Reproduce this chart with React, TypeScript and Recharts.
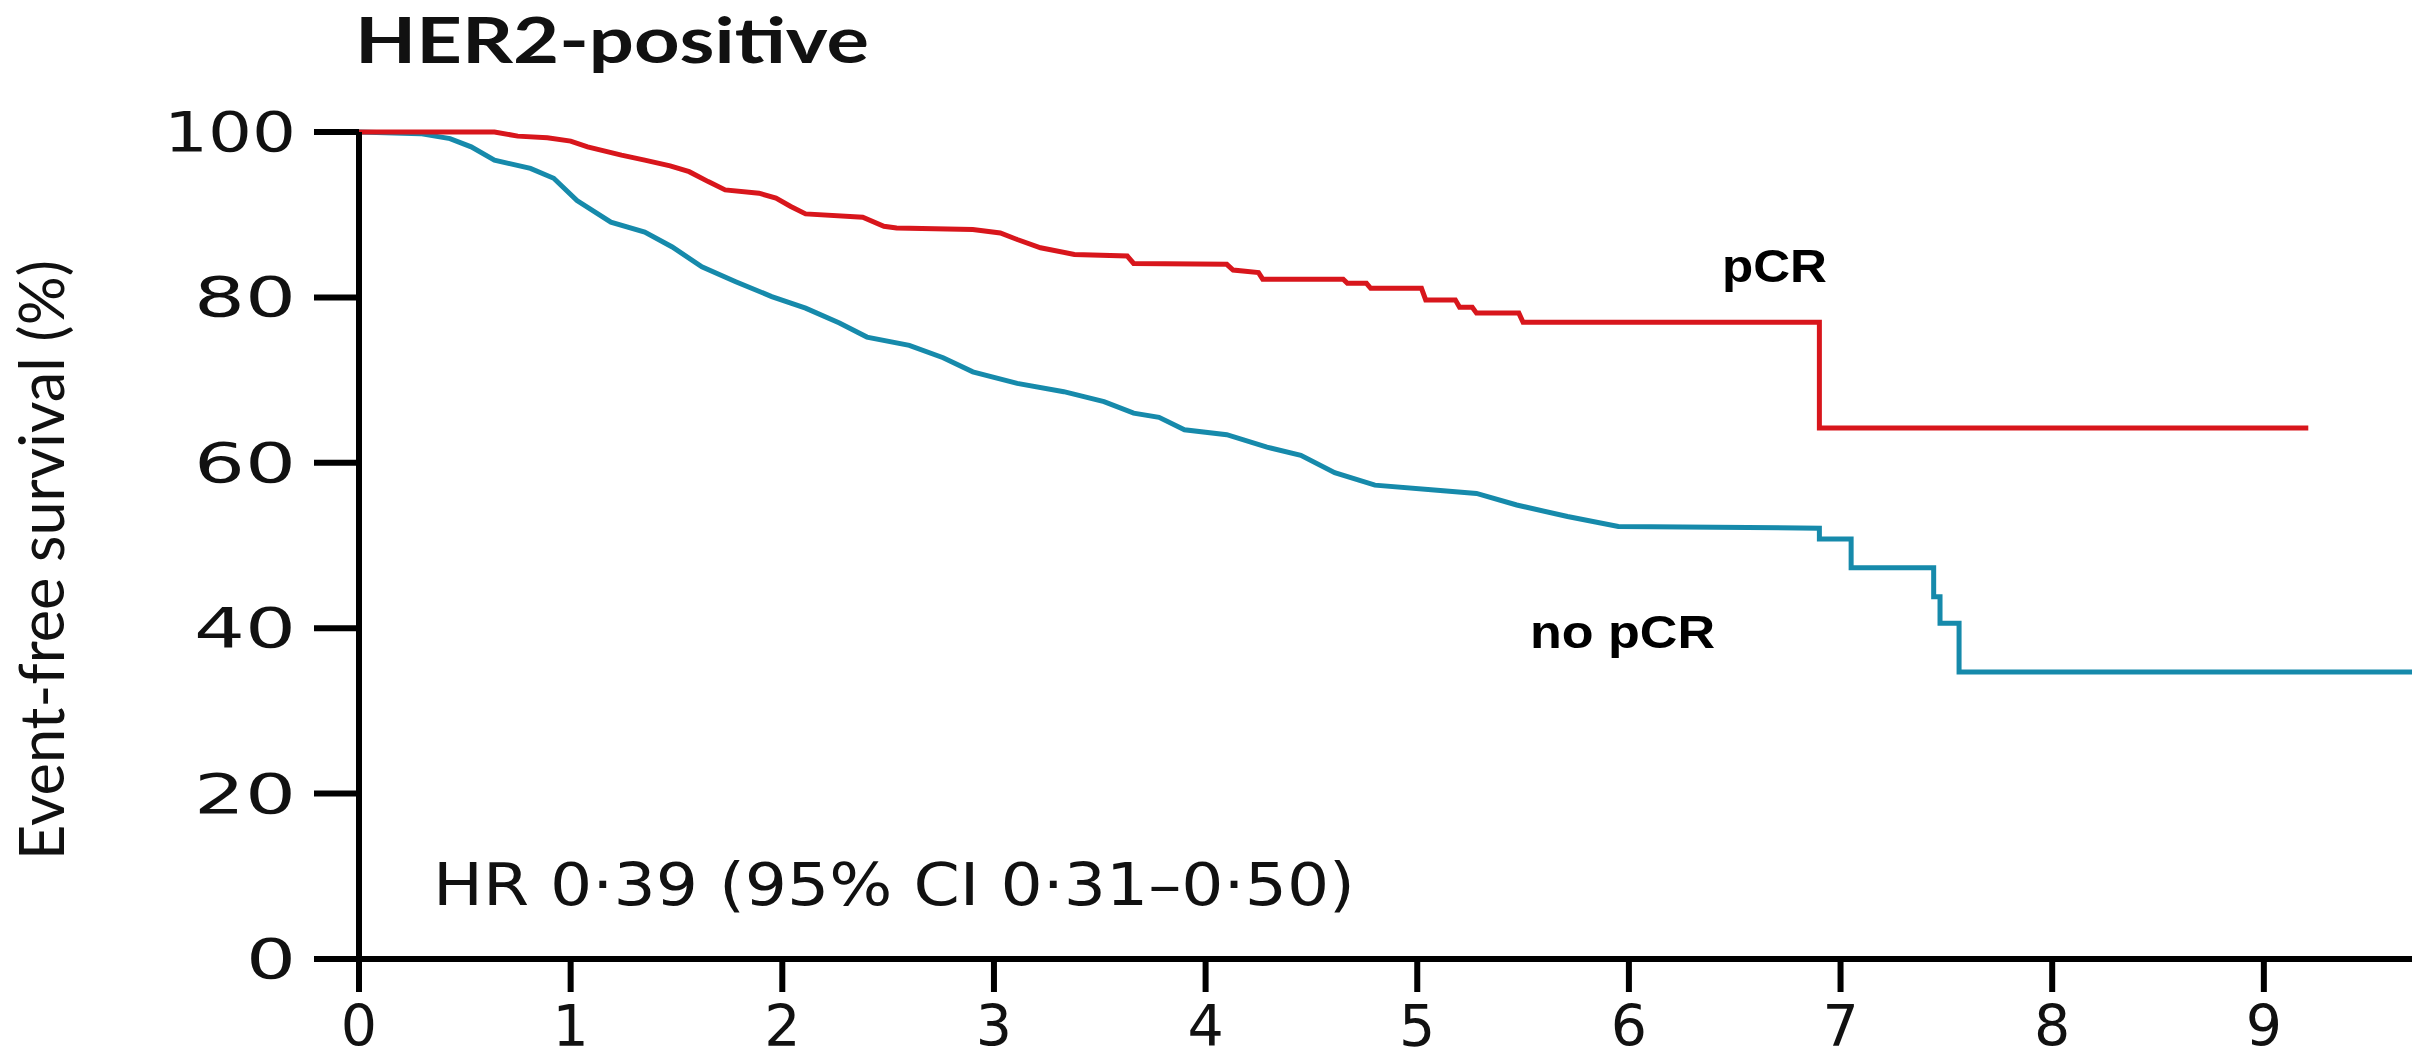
import { LineChart, Line, XAxis, YAxis } from 'recharts'

// event-free survival, years vs %
const PCR_TIME = [0, 0.64, 0.75, 0.89, 1.0, 1.08, 1.24, 1.35, 1.47, 1.56, 1.65, 1.73, 1.89, 1.97, 2.04, 2.11, 2.38, 2.48, 2.54, 2.9, 3.03, 3.11, 3.22, 3.38, 3.63, 3.66, 4.1, 4.13, 4.25, 4.27, 4.65, 4.67, 4.76, 4.78, 5.02, 5.04, 5.18, 5.2, 5.26, 5.28, 5.48, 5.5, 6.9, 6.9, 9.21]
const PCR_EFS = [100, 100, 99.5, 99.3, 98.9, 98.2, 97.2, 96.6, 95.9, 95.2, 94.0, 93.0, 92.6, 92.0, 91.0, 90.1, 89.7, 88.6, 88.4, 88.2, 87.8, 87.0, 86.0, 85.2, 85.0, 84.1, 84.0, 83.3, 83.0, 82.2, 82.2, 81.7, 81.7, 81.1, 81.1, 79.7, 79.7, 78.8, 78.8, 78.1, 78.1, 77.0, 77.0, 64.2, 64.2]

const NO_PCR_TIME = [0, 0.29, 0.43, 0.53, 0.64, 0.81, 0.92, 1.03, 1.19, 1.35, 1.48, 1.62, 1.78, 1.95, 2.11, 2.27, 2.4, 2.6, 2.76, 2.9, 3.11, 3.33, 3.52, 3.66, 3.78, 3.9, 4.1, 4.29, 4.45, 4.61, 4.8, 5.08, 5.28, 5.47, 5.71, 5.95, 6.9, 6.9, 7.05, 7.05, 7.44, 7.44, 7.47, 7.47, 7.56, 7.56, 9.7]
const NO_PCR_EFS = [100, 99.8, 99.2, 98.2, 96.6, 95.6, 94.4, 91.7, 89.1, 87.9, 86.1, 83.7, 81.9, 80.1, 78.7, 76.9, 75.2, 74.2, 72.7, 71.0, 69.6, 68.6, 67.4, 66.0, 65.5, 64.0, 63.4, 61.9, 60.9, 58.8, 57.3, 56.7, 56.3, 54.9, 53.5, 52.3, 52.1, 50.8, 50.8, 47.3, 47.3, 43.8, 43.8, 40.6, 40.6, 34.7, 34.7]

const X_TICKS = [0, 1, 2, 3, 4, 5, 6, 7, 8, 9]
const Y_TICKS = [0, 20, 40, 60, 80, 100]

const pcrData = PCR_TIME.map((t, i) => ({ t, efs: PCR_EFS[i] }))
const noPcrData = NO_PCR_TIME.map((t, i) => ({ t, efs: NO_PCR_EFS[i] }))

const RED = '#d8161c'
const BLUE = '#168aab'
const W = 2412
const H = 1061

function YTick({ x, y, payload }: any) {
  const label = String(payload.value)
  const w = label.length === 3 ? 132 : label.length === 2 ? 102 : 50
  return (
    <text x={x} y={y} dy={19} textAnchor="end" fontFamily="DejaVu Sans" fontSize={55} fill="#111"
      textLength={w} lengthAdjust="spacingAndGlyphs">
      {label}
    </text>
  )
}

function XTick({ x, y, payload }: any) {
  return (
    <text x={x} y={y} dy={54} textAnchor="middle" fontFamily="DejaVu Sans" fontSize={57} fill="#111">
      {payload.value}
    </text>
  )
}

export default function App() {
  return (
    <div style={{ position: 'absolute', left: 0, top: 0, width: W, height: H, background: '#fff' }}>
      <LineChart width={W} height={H} margin={{ top: 132, right: 0, bottom: 0, left: 0 }}>
        <XAxis
          type="number"
          dataKey="t"
          domain={[0, 9.7]}
          ticks={X_TICKS}
          allowDataOverflow
          height={102}
          tickSize={33}
          tickMargin={0}
          axisLine={{ stroke: '#000', strokeWidth: 6 }}
          tickLine={{ stroke: '#000', strokeWidth: 6 }}
          tick={<XTick />}
        />
        <YAxis
          type="number"
          domain={[0, 100]}
          ticks={Y_TICKS}
          width={359}
          tickSize={45}
          tickMargin={18}
          axisLine={{ stroke: '#000', strokeWidth: 6 }}
          tickLine={{ stroke: '#000', strokeWidth: 6 }}
          tick={<YTick />}
        />
        <Line data={noPcrData} dataKey="efs" type="linear" stroke={BLUE} strokeWidth={5}
          dot={false} activeDot={false} isAnimationActive={false} />
        <Line data={pcrData} dataKey="efs" type="linear" stroke={RED} strokeWidth={5}
          dot={false} activeDot={false} isAnimationActive={false} />
      </LineChart>
      <svg width={W} height={H} style={{ position: 'absolute', left: 0, top: 0, pointerEvents: 'none' }}>
        <text x={355} y={63} fontFamily="Lato" fontWeight={700} fontSize={64} fill="#111"
          textLength={514} lengthAdjust="spacingAndGlyphs">HER2-positive</text>
        <text transform="translate(64 560) rotate(-90)" textAnchor="middle" fontFamily="Lato" fontSize={61} fill="#111"
          textLength={600} lengthAdjust="spacingAndGlyphs">Event-free survival (%)</text>
        <text x={433} y={905} fontFamily="DejaVu Sans" fontSize={59} fill="#111"
          textLength={922} lengthAdjust="spacingAndGlyphs">HR 0·39 (95% CI 0·31–0·50)</text>
        <text x={1722} y={282} fontFamily="Liberation Sans" fontWeight={700} fontSize={47} fill="#000"
          textLength={105} lengthAdjust="spacingAndGlyphs">pCR</text>
        <text x={1530} y={648} fontFamily="Liberation Sans" fontWeight={700} fontSize={46} fill="#000"
          textLength={185} lengthAdjust="spacingAndGlyphs">no pCR</text>
      </svg>
    </div>
  )
}
